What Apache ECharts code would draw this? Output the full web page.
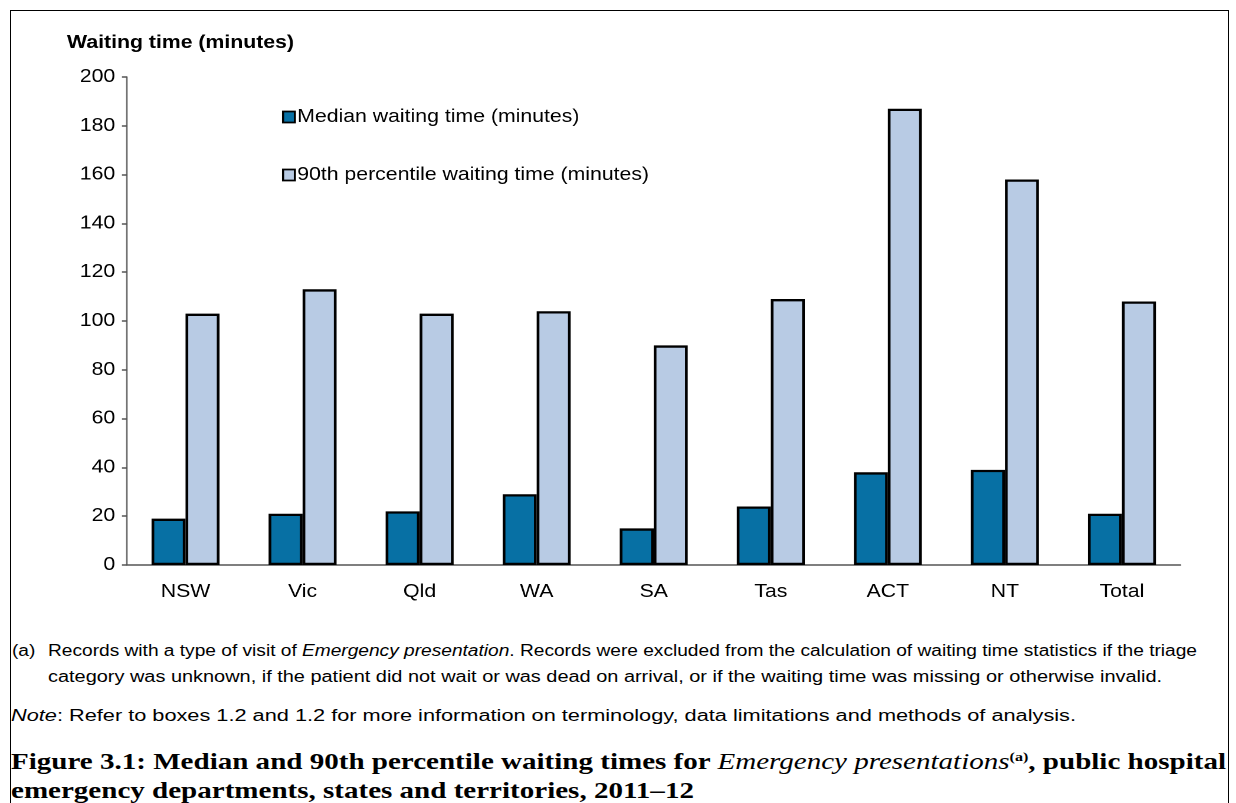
<!DOCTYPE html>
<html>
<head>
<meta charset="utf-8">
<script src="https://cdn.jsdelivr.net/npm/echarts@6/dist/echarts.min.js"></script>
<style>
  html, body { margin: 0; padding: 0; background: #fff; }
  #wrap { position: relative; width: 1236px; height: 803px; overflow: hidden; }
  #frame { position: absolute; left: 10px; top: 10px; width: 1219px; height: 820px; border: 1.5px solid #000; box-sizing: border-box; }
  #chart { position: absolute; left: 0; top: 0; height: 620px; transform-origin: 0 0; }
  .fn { position: absolute; font-family: Arial, "Liberation Sans", sans-serif; font-size: 16px; line-height: 26px; color: #000; white-space: nowrap; transform-origin: 0 0; }
  .title { position: absolute; left: 11px; font-family: "Liberation Serif", "Times New Roman", serif; font-weight: bold; font-size: 23.5px; line-height: 29px; color: #000; white-space: nowrap; transform-origin: 0 0; }
  .title i { font-weight: normal; }
  .title sup { font-size: 13px; line-height: 0; vertical-align: 8px; }
</style>
</head>
<body>
<div id="wrap">
  <div id="frame"></div>
  <div id="chart"></div>
  <div class="fn" id="fa" style="left:12px; top:638px;">(a)</div>
  <div class="fn" id="fl1" style="left:48px; top:638px;">Records with a type of visit of <i>Emergency presentation</i>. Records were excluded from the calculation of waiting time statistics if the triage</div>
  <div class="fn" id="fl2" style="left:48px; top:664px;">category was unknown, if the patient did not wait or was dead on arrival, or if the waiting time was missing or otherwise invalid.</div>
  <div class="fn" id="fnote" style="left:11px; top:703px;"><i>Note</i>: Refer to boxes 1.2 and 1.2 for more information on terminology, data limitations and methods of analysis.</div>
  <div class="title" id="t1" style="top:747px;">Figure 3.1: Median and 90th percentile waiting times for <i>Emergency presentations</i><sup>(a)</sup>, public hospital</div>
  <div class="title" id="t2" style="top:776px;">emergency departments, states and territories, 2011–12</div>
</div>
<script>
const categories = ['NSW', 'Vic', 'Qld', 'WA', 'SA', 'Tas', 'ACT', 'NT', 'Total'];
const medianValues = [19, 21, 22, 29, 15, 24, 38, 39, 21];
const p90Values = [103, 113, 103, 104, 90, 109, 187, 158, 108];
const yTicks = [0, 20, 40, 60, 80, 100, 120, 140, 160, 180, 200];
const seriesNames = ['Median waiting time (minutes)', '90th percentile waiting time (minutes)'];

// The reference artwork is horizontally stretched; draw at natural width, then stretch.
const SX = 1.18;
const W = 1236 / SX;
const el = document.getElementById('chart');
el.style.width = W + 'px';
el.style.transform = 'scaleX(' + SX + ')';

const chart = echarts.init(el, null, { renderer: 'canvas', devicePixelRatio: 2 });
const font = 'Arial, "Liberation Sans", sans-serif';
chart.setOption({
  animation: false,
  grid: { left: 127 / SX, top: 77, right: 55 / SX, bottom: 55, containLabel: false },
  graphic: [{
    type: 'text', left: 67 / SX, top: 34,
    style: { text: 'Waiting time (minutes)', font: 'bold 18px ' + font, fill: '#000' }
  }],
  legend: {
    orient: 'vertical', left: 282 / SX, top: 108, itemGap: 40, padding: 0,
    icon: 'rect', itemWidth: 10, itemHeight: 11,
    itemStyle: { borderWidth: 1.8, borderColor: '#000' },
    textStyle: { fontFamily: font, fontSize: 18, color: '#000', padding: [0, 0, 0, -3] },
    data: seriesNames
  },
  xAxis: {
    type: 'category', data: categories,
    axisLine: { lineStyle: { color: '#555', width: 1.5 } },
    axisTick: { show: false },
    axisLabel: { fontFamily: font, fontSize: 18, color: '#000', margin: 18 }
  },
  yAxis: {
    type: 'value', min: 0, max: 200, interval: 20,
    axisLine: { show: true, lineStyle: { color: '#666', width: 1.3 } },
    axisTick: { show: true, inside: false, length: 4.3, lineStyle: { color: '#555', width: 1.5 } },
    splitLine: { show: false },
    axisLabel: { fontFamily: font, fontSize: 18, color: '#000', margin: 10,
      formatter: v => yTicks.includes(v) ? String(v) : '' }
  },
  series: [
    { name: seriesNames[0], type: 'bar', data: medianValues, barWidth: 34 / SX, barGap: '0%',
      itemStyle: { color: '#0770a4', borderColor: '#000', borderWidth: 2.3 } },
    { name: seriesNames[1], type: 'bar', data: p90Values, barWidth: 34 / SX, barGap: '0%',
      itemStyle: { color: '#b8cbe4', borderColor: '#000', borderWidth: 2.3 } }
  ]
});

// fit the footnote and caption lines to the reference extents
function fitTo(id, right) {
  const e = document.getElementById(id);
  const r = e.getBoundingClientRect();
  const s = (right - r.left) / r.width;
  e.style.transform = 'scaleX(' + s + ')';
  return s;
}
const sfn = fitTo('fl1', 1197);
document.getElementById('fa').style.transform = 'scaleX(' + sfn + ')';
fitTo('fl2', 1162);
fitTo('fnote', 1076);
const st = fitTo('t1', 1226);
document.getElementById('t2').style.transform = 'scaleX(' + st + ')';
</script>
</body>
</html>
